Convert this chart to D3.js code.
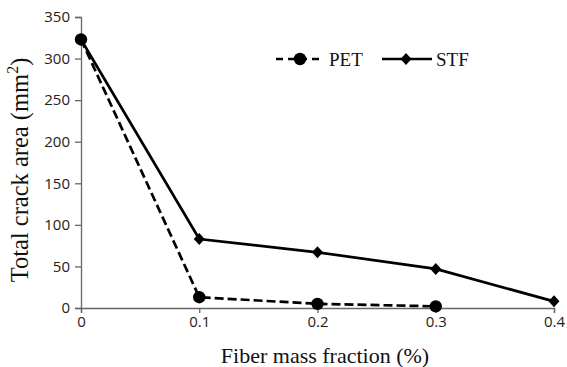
<!DOCTYPE html>
<html><head><meta charset="utf-8">
<script src="https://cdn.jsdelivr.net/npm/d3@7"></script>
<style>body{margin:0;background:#fff}</style>
</head><body>
<svg id="c" width="567" height="367"></svg>
<script>
const xValues = [0, 0.1, 0.2, 0.3, 0.4];
const petValues = [323, 13, 5, 2];
const stfValues = [323, 83, 67, 47, 8];
const yTicks = [0, 50, 100, 150, 200, 250, 300, 350];
const xTicks = [0, 0.1, 0.2, 0.3, 0.4];
const seriesNames = ["PET", "STF"];

const svg = d3.select("#c");
const x = d3.scaleLinear().domain([0, 0.4]).range([81, 554]);
const y = d3.scaleLinear().domain([0, 350]).range([308, 17]);
const tickFont = "'Open Sans', sans-serif";
const serif = "'Liberation Serif', 'Times New Roman', serif";

const yAxis = svg.append("g").attr("transform", "translate(81,0)")
  .call(d3.axisLeft(y).tickValues(yTicks).tickSize(6).tickPadding(5).tickFormat(d3.format("d")));
const xAxis = svg.append("g").attr("transform", "translate(0,308)")
  .call(d3.axisBottom(x).tickValues(xTicks).tickSize(5).tickPadding(3).tickFormat(d => d === 0 ? "0" : d3.format(".1f")(d)));
[yAxis, xAxis].forEach(g => {
  g.selectAll("path.domain").attr("stroke", "#666").attr("stroke-width", 1.3);
  g.selectAll(".tick line").attr("stroke", "#666").attr("stroke-width", 1.3);
  g.selectAll("text").attr("font-family", tickFont).attr("font-size", 15).attr("fill", "#222");
});

const line = d3.line().x((d, i) => x(xValues[i])).y(d => y(d));
svg.append("path").datum(petValues).attr("d", line).attr("fill", "none")
  .attr("stroke", "#000").attr("stroke-width", 2.7).attr("stroke-dasharray", "9,4");
svg.append("path").datum(stfValues).attr("d", line).attr("fill", "none")
  .attr("stroke", "#000").attr("stroke-width", 2.7);

const diamondPath = "M0,-6L5.5,0L0,6L-5.5,0Z";
svg.selectAll(".stf").data(stfValues).enter().append("path")
  .attr("transform", (d, i) => `translate(${x(xValues[i])},${y(d)})`)
  .attr("d", diamondPath).attr("fill", "#000");
svg.selectAll(".pet").data(petValues).enter().append("circle")
  .attr("cx", (d, i) => x(xValues[i])).attr("cy", d => y(d)).attr("r", 6.2).attr("fill", "#000");

// legend
const ly = 59;
const lg = svg.append("g");
lg.append("line").attr("x1", 276).attr("x2", 324).attr("y1", ly).attr("y2", ly)
  .attr("stroke", "#000").attr("stroke-width", 2.7).attr("stroke-dasharray", "7,5");
lg.append("circle").attr("cx", 300).attr("cy", ly).attr("r", 6.2).attr("fill", "#000");
lg.append("text").attr("x", 329).attr("y", ly + 7).text(seriesNames[0])
  .attr("font-family", serif).attr("font-size", 19).attr("fill", "#111");
lg.append("line").attr("x1", 382).attr("x2", 432).attr("y1", ly).attr("y2", ly)
  .attr("stroke", "#000").attr("stroke-width", 2.7);
lg.append("path").attr("transform", `translate(406,${ly})`).attr("d", diamondPath).attr("fill", "#000");
lg.append("text").attr("x", 436).attr("y", ly + 7).text(seriesNames[1])
  .attr("font-family", serif).attr("font-size", 19).attr("fill", "#111");

// titles
svg.append("text").attr("x", 325).attr("y", 363).attr("text-anchor", "middle")
  .attr("font-family", serif).attr("font-size", 22).attr("fill", "#111").text("Fiber mass fraction (%)");
const yt = svg.append("text").attr("transform", "translate(28,170) rotate(-90)").attr("text-anchor", "middle")
  .attr("font-family", serif).attr("font-size", 24.5).attr("fill", "#111");
yt.append("tspan").text("Total crack area (mm");
yt.append("tspan").attr("font-size", 16).attr("dy", -10).text("2");
yt.append("tspan").attr("dy", 10).text(")");
</script>
</body></html>
